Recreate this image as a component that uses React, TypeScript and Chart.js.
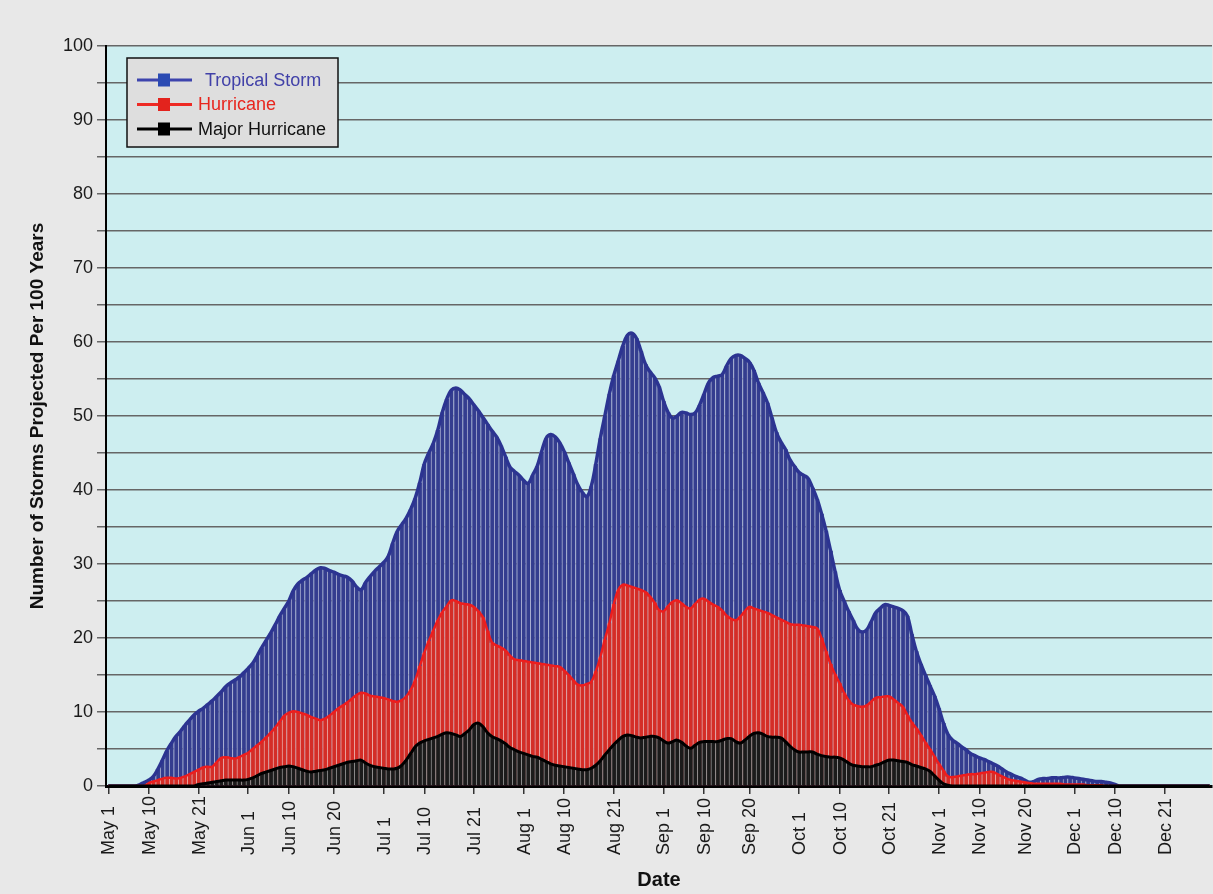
import { useEffect, useRef } from "react";
import { Chart, registerables } from "chart.js";
Chart.register(...registerables);

const MONTHS = ["May", "Jun", "Jul", "Aug", "Sep", "Oct", "Nov", "Dec"];
const MONTH_DAYS = [31, 30, 31, 31, 30, 31, 30, 31];
const TICK_LABELS = [
  "May 1", "May 10", "May 21", "Jun 1", "Jun 10", "Jun 20", "Jul 1", "Jul 10",
  "Jul 21", "Aug 1", "Aug 10", "Aug 21", "Sep 1", "Sep 10", "Sep 20", "Oct 1",
  "Oct 10", "Oct 21", "Nov 1", "Nov 10", "Nov 20", "Dec 1", "Dec 10", "Dec 21",
];
const SERIES_NAMES = ["Tropical Storm", "Hurricane", "Major Hurricane"];

const TROPICAL_STORM = [
  0, 0, 0, 0, 0, 0, 0, 0.2, 0.5, 0.8,
  1.3, 2.3, 3.5, 4.8, 5.8, 6.7, 7.4, 8.2, 8.9, 9.6,
  10.1, 10.5, 11.0, 11.5, 12.1, 12.7, 13.4, 13.9, 14.3, 14.7,
  15.3, 15.9, 16.6, 17.6, 18.7, 19.7, 20.7, 21.8, 23.0, 24.0,
  25.0, 26.4, 27.3, 27.8, 28.2, 28.7, 29.2, 29.5, 29.4, 29.1,
  28.9, 28.6, 28.4, 28.2, 27.7, 26.9, 26.5, 27.5, 28.3, 29.0,
  29.6, 30.2, 31.0, 32.8, 34.4, 35.3, 36.2, 37.4, 38.9, 41.0,
  43.5, 45.0, 46.3, 48.1, 50.5, 52.3, 53.5, 53.8, 53.5, 52.9,
  52.3, 51.5, 50.7, 49.8, 48.9, 48.0, 47.2, 46.0, 44.5, 43.1,
  42.5, 42.0, 41.3, 40.9, 42.0, 43.2, 45.2, 47.0, 47.5, 47.2,
  46.4, 45.2, 43.7, 42.2, 40.7, 39.7, 39.1, 40.5, 43.5, 47.0,
  50.0, 53.0, 55.5, 57.5, 59.5, 60.9, 61.2, 60.5, 58.8, 57.0,
  56.0, 55.2, 54.0, 52.0, 50.5, 49.7, 50.0, 50.5, 50.4, 50.2,
  50.4, 51.5, 53.0, 54.5, 55.2, 55.4, 55.6, 56.8, 57.8, 58.2,
  58.2, 57.8, 57.3, 56.2, 54.5, 53.2, 51.8, 49.8, 47.8, 46.5,
  45.5, 44.1, 43.2, 42.4, 42.0, 41.6, 40.3, 38.8, 36.8, 34.5,
  31.8, 29.0, 26.5, 25.0, 23.6, 22.4, 21.2, 20.8, 21.1, 22.2,
  23.4, 24.0, 24.5, 24.4, 24.2, 24.0, 23.7, 23.0, 20.5, 18.2,
  16.5, 15.0, 13.6, 12.2, 10.5, 8.5, 7.0, 6.2, 5.8, 5.3,
  4.9, 4.4, 4.1, 3.8, 3.6, 3.3, 3.0, 2.7, 2.3, 1.9,
  1.6, 1.3, 1.1, 0.8, 0.5, 0.6, 0.9, 1.0, 1.0, 1.1,
  1.1, 1.1, 1.2, 1.2, 1.1, 1.0, 0.9, 0.8, 0.7, 0.6,
  0.6, 0.5, 0.4, 0.2, 0, 0, 0, 0, 0, 0,
  0, 0, 0, 0, 0, 0, 0, 0, 0, 0,
  0, 0, 0, 0, 0,
];

const HURRICANE = [
  0, 0, 0, 0, 0, 0, 0, 0, 0, 0.4,
  0.6, 0.8, 1.0, 1.1, 1.1, 1.0, 1.1, 1.3, 1.6, 1.9,
  2.2, 2.5, 2.6, 2.6, 3.2, 3.8, 3.9, 3.8, 3.7, 3.9,
  4.2, 4.5, 5.0, 5.5, 6.0, 6.6, 7.2, 7.9, 8.7, 9.5,
  9.9, 10.1, 10.0, 9.8, 9.6, 9.3, 9.1, 8.9, 9.1, 9.5,
  10.0, 10.5, 10.9, 11.3, 11.8, 12.3, 12.6, 12.5, 12.2, 12.1,
  12.0, 11.9, 11.7, 11.5, 11.4, 11.6, 12.1, 13.0, 14.3, 16.2,
  18.0, 19.6, 21.0, 22.4, 23.5, 24.3, 25.1, 25.0, 24.7, 24.6,
  24.5, 24.2, 23.6, 22.8, 21.0, 19.4, 19.0, 18.7, 18.3, 17.6,
  17.1, 17.0, 16.9, 16.8, 16.7, 16.6, 16.5, 16.4, 16.3, 16.2,
  16.1, 15.6, 15.0, 14.3, 13.7, 13.6, 13.8, 14.1, 15.5, 17.4,
  19.8, 22.0, 24.6, 26.5, 27.2, 27.1, 26.9, 26.7, 26.5, 26.2,
  25.6, 24.8, 23.8, 23.6, 24.3, 24.9, 25.1, 24.7, 24.2, 24.0,
  24.6, 25.2, 25.3, 24.9, 24.5, 24.2, 23.7, 23.0, 22.6, 22.4,
  22.9, 23.6, 24.2, 24.0, 23.8, 23.6, 23.4, 23.1, 22.8, 22.5,
  22.2, 21.9, 21.8, 21.8, 21.7, 21.6, 21.5, 21.3, 20.0, 18.2,
  16.5, 15.1, 13.9, 12.6, 11.6, 11.0, 10.8, 10.7, 10.9, 11.4,
  11.9, 12.0, 12.1, 12.1, 11.7, 11.2, 10.7, 9.6, 8.6, 7.8,
  6.9, 5.9, 5.0, 4.0, 3.0, 2.1, 1.3, 1.2, 1.3, 1.4,
  1.5, 1.6, 1.6, 1.7, 1.8, 1.9, 1.9, 1.6, 1.3, 1.0,
  0.8, 0.7, 0.6, 0.5, 0.4, 0.3, 0.3, 0.3, 0.3, 0.3,
  0.3, 0.3, 0.2, 0.2, 0.2, 0.2, 0.2, 0.1, 0.1, 0.1,
  0.1, 0, 0, 0, 0, 0, 0, 0, 0, 0,
  0, 0, 0, 0, 0, 0, 0, 0, 0, 0,
  0, 0, 0, 0, 0,
];

const MAJOR_HURRICANE = [
  0, 0, 0, 0, 0, 0, 0, 0, 0, 0,
  0, 0, 0, 0, 0, 0, 0, 0, 0, 0,
  0.2, 0.3, 0.4, 0.5, 0.6, 0.7, 0.8, 0.8, 0.8, 0.8,
  0.8, 0.9, 1.1, 1.4, 1.7, 1.9, 2.1, 2.3, 2.5, 2.6,
  2.7, 2.6, 2.4, 2.2, 2.0, 1.9, 2.0, 2.1, 2.2, 2.4,
  2.6, 2.8, 3.0, 3.2, 3.3, 3.4, 3.5, 3.1, 2.8, 2.6,
  2.5, 2.4, 2.3, 2.3, 2.4, 2.8, 3.5, 4.4, 5.3, 5.8,
  6.1, 6.3, 6.5, 6.7, 7.0, 7.2, 7.1, 6.9, 6.7, 7.1,
  7.6, 8.3, 8.5, 8.0, 7.2, 6.7, 6.4, 6.1, 5.7, 5.2,
  4.9, 4.6, 4.4, 4.2, 4.0, 3.9, 3.6, 3.3, 3.0, 2.8,
  2.7, 2.6, 2.5, 2.4, 2.3, 2.2, 2.2, 2.4, 2.8, 3.4,
  4.2, 4.9, 5.6, 6.2, 6.7, 6.9, 6.8, 6.6, 6.5, 6.6,
  6.7, 6.7, 6.5, 6.1, 5.8, 6.0, 6.2, 5.9, 5.4, 5.1,
  5.5, 5.9, 6.0, 6.0, 6.0, 6.0, 6.2, 6.4, 6.4, 6.0,
  5.8, 6.2, 6.7, 7.1, 7.2, 7.0, 6.7, 6.6, 6.6, 6.5,
  6.0, 5.4, 4.9, 4.6, 4.6, 4.6, 4.6, 4.3, 4.1, 4.0,
  3.9, 3.9, 3.8, 3.5, 3.1, 2.8, 2.7, 2.6, 2.6, 2.6,
  2.8, 3.0, 3.3, 3.5, 3.5, 3.4, 3.3, 3.2, 2.9, 2.7,
  2.5, 2.3, 2.0, 1.4, 0.8, 0.3, 0.1, 0, 0, 0,
  0, 0, 0, 0, 0, 0, 0, 0, 0, 0,
  0, 0, 0, 0, 0, 0, 0, 0, 0, 0,
  0, 0, 0, 0, 0, 0, 0, 0, 0, 0,
  0, 0, 0, 0, 0, 0, 0, 0, 0, 0,
  0, 0, 0, 0, 0, 0, 0, 0, 0, 0,
  0, 0, 0, 0, 0,
];

const DATES: string[] = MONTHS.flatMap((m, i) =>
  Array.from({ length: MONTH_DAYS[i] }, (_, d) => `${m} ${d + 1}`)
);
const TICK_SET = new Set(TICK_LABELS);

const FONT = "'Liberation Sans', Arial, Helvetica, sans-serif";

const LEGEND_STYLE = [
  { line: "#3d44ad", box: "#2b4bb3", text: "#4141a8", textDx: 78 },
  { line: "#ee2a24", box: "#e3231d", text: "#e8261e", textDx: 71 },
  { line: "#000000", box: "#000000", text: "#111111", textDx: 71 },
];

const plotBg = {
  id: "plotBg",
  beforeDraw(chart: any) {
    const { ctx, chartArea: a } = chart;
    ctx.save();
    ctx.fillStyle = "#cdeef0";
    ctx.fillRect(a.left, a.top, a.right - a.left, a.bottom - a.top);
    ctx.restore();
  },
};

// x tick labels, rotated and bottom-aligned like the original
const xLabels = {
  id: "xLabels",
  afterDraw(chart: any) {
    const { ctx, scales } = chart;
    const sx = scales.x;
    const baseY = sx.top + 69;
    ctx.save();
    ctx.font = `18px ${FONT}`;
    ctx.fillStyle = "#1a1a1a";
    ctx.textAlign = "left";
    ctx.textBaseline = "middle";
    DATES.forEach((d, i) => {
      if (!TICK_SET.has(d)) return;
      const px = sx.getPixelForValue(i);
      ctx.save();
      ctx.translate(px + 1, baseY);
      ctx.rotate(-Math.PI / 2);
      ctx.fillText(d, 0, 0);
      ctx.restore();
    });
    ctx.restore();
  },
};

const legendBox = {
  id: "legendBox",
  afterDraw(chart: any) {
    const { ctx, chartArea: a } = chart;
    const x = a.left + 21;
    const y = a.top + 12;
    const w = 211;
    const h = 89;
    ctx.save();
    ctx.fillStyle = "#dedede";
    ctx.fillRect(x, y, w, h);
    ctx.strokeStyle = "#111";
    ctx.lineWidth = 1.5;
    ctx.strokeRect(x, y, w, h);
    ctx.font = `18px ${FONT}`;
    ctx.textBaseline = "middle";
    SERIES_NAMES.forEach((name, i) => {
      const st = LEGEND_STYLE[i];
      const cy = y + 22 + i * 24.5;
      ctx.strokeStyle = st.line;
      ctx.lineWidth = 3;
      ctx.beginPath();
      ctx.moveTo(x + 10, cy);
      ctx.lineTo(x + 65, cy);
      ctx.stroke();
      ctx.fillStyle = st.box;
      ctx.fillRect(x + 31, cy - 6.5, 12, 13);
      ctx.fillStyle = st.text;
      ctx.fillText(name, x + st.textDx, cy + 1);
    });
    ctx.restore();
  },
};

export default function App() {
  const ref = useRef<HTMLCanvasElement | null>(null);

  useEffect(() => {
    document.body.style.margin = "0";
    const canvas = ref.current;
    if (!canvas) return;
    const stripe = { left: 1, right: 0, top: 0, bottom: 0 };
    const chart = new Chart(canvas, {
      type: "bar",
      data: {
        labels: DATES,
        datasets: [
          {
            type: "line",
            label: SERIES_NAMES[2],
            data: MAJOR_HURRICANE,
            borderColor: "#000000",
            borderWidth: 3,
            pointRadius: 0,
            tension: 0.4,
            fill: false,
            order: 0,
          },
          {
            type: "bar",
            label: SERIES_NAMES[2] + " bars",
            data: MAJOR_HURRICANE,
            backgroundColor: "#1b1b1b",
            borderColor: "#8d8d8d",
            borderWidth: stripe,
            borderSkipped: false,
            categoryPercentage: 1,
            barPercentage: 1,
            order: 1,
          },
          {
            type: "line",
            label: SERIES_NAMES[1],
            data: HURRICANE,
            borderColor: "#ee1d1d",
            borderWidth: 2.5,
            pointRadius: 0,
            tension: 0.4,
            fill: false,
            order: 2,
          },
          {
            type: "bar",
            label: SERIES_NAMES[1] + " bars",
            data: HURRICANE,
            backgroundColor: "#d42d27",
            borderColor: "#eba8a4",
            borderWidth: stripe,
            borderSkipped: false,
            categoryPercentage: 1,
            barPercentage: 1,
            order: 3,
          },
          {
            type: "line",
            label: SERIES_NAMES[0],
            data: TROPICAL_STORM,
            borderColor: "#2c3491",
            borderWidth: 3.5,
            pointRadius: 0,
            tension: 0.4,
            fill: false,
            order: 4,
          },
          {
            type: "bar",
            label: SERIES_NAMES[0] + " bars",
            data: TROPICAL_STORM,
            backgroundColor: "#343d8f",
            borderColor: "#a6abcf",
            borderWidth: stripe,
            borderSkipped: false,
            categoryPercentage: 1,
            barPercentage: 1,
            order: 5,
          },
        ] as any,
      },
      options: {
        responsive: false,
        animation: false,
        layout: { padding: { top: 46, right: 1, left: 0, bottom: 0 } },
        plugins: {
          legend: { display: false },
          tooltip: { enabled: false },
        },
        scales: {
          x: {
            type: "category",
            offset: true,
            stacked: true,
            grid: {
              offset: false,
              drawOnChartArea: false,
              drawTicks: true,
              tickLength: 8,
              lineWidth: 1.5,
              color: (c: any) =>
                TICK_SET.has(DATES[c.index]) ? "#333333" : "rgba(0,0,0,0)",
            },
            border: { color: "#000000", width: 3 },
            ticks: {
              display: false,
              autoSkip: false,
            },
            title: {
              display: true,
              text: "Date",
              color: "#111111",
              font: { family: FONT, size: 20, weight: "bold" },
              padding: { top: 0, bottom: 2 },
            },
            afterFit: (s: any) => {
              s.height = 108;
              s.paddingLeft = 0;
              s.paddingRight = 0;
            },
          },
          y: {
            min: 0,
            max: 100,
            stacked: false,
            ticks: {
              stepSize: 5,
              padding: 4,
              color: "#1a1a1a",
              font: { family: FONT, size: 18 },
              callback: (v: any) => (Number(v) % 10 === 0 ? String(v) : ""),
            },
            grid: {
              color: "#666666",
              lineWidth: 1.5,
              tickLength: 9,
              drawTicks: true,
            },
            border: { color: "#000000", width: 2 },
            title: {
              display: true,
              text: "Number of Storms Projected Per 100 Years",
              color: "#111111",
              font: { family: FONT, size: 19, weight: "bold" },
              padding: { top: 26, bottom: 0 },
            },
            afterFit: (s: any) => {
              s.width = 106;
              s.paddingTop = 0;
              s.paddingBottom = 0;
            },
          },
        },
      } as any,
      plugins: [plotBg, xLabels, legendBox],
    });
    return () => chart.destroy();
  }, []);

  return (
    <div
      style={{
        position: "fixed",
        left: 0,
        top: 0,
        width: 1213,
        height: 894,
        background: "#e8e8e8",
      }}
    >
      <canvas
        ref={ref}
        width={1213}
        height={894}
        style={{ display: "block", width: 1213, height: 894 }}
      />
    </div>
  );
}
